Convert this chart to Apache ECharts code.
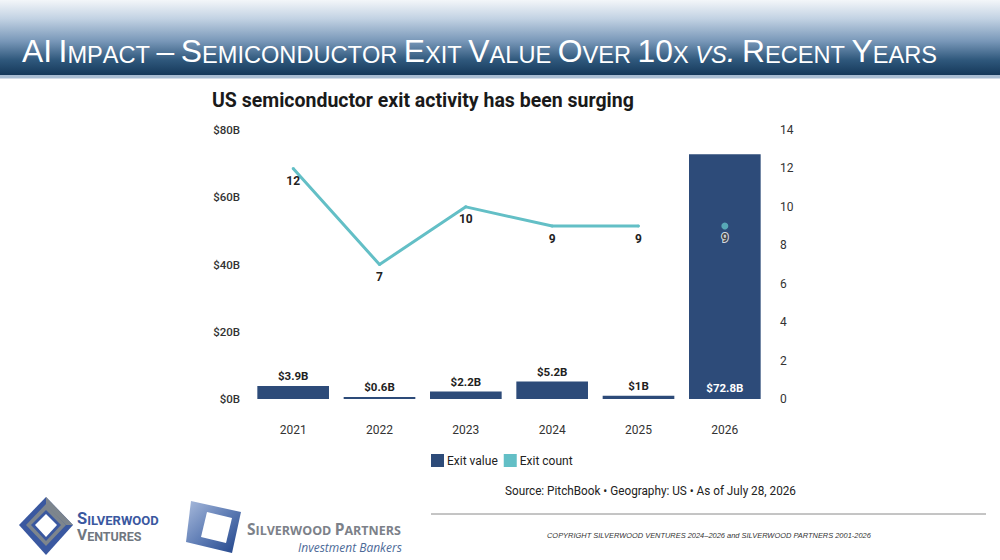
<!DOCTYPE html>
<html>
<head>
<meta charset="utf-8">
<script src="https://cdn.jsdelivr.net/npm/echarts@6/dist/echarts.min.js"></script>
<style>
  html, body { margin: 0; padding: 0; background: #fff; }
  #chart { width: 1000px; height: 560px; }
</style>
</head>
<body>
<div id="chart"></div>
<script>
// data
var years = ['2021', '2022', '2023', '2024', '2025', '2026'];
var exitValue = [3.9, 0.6, 2.2, 5.2, 1, 72.8];   // $B
var exitCount = [12, 7, 10, 9, 9, 9];
var valueTicks = [0, 20, 40, 60, 80];
var countTicks = [0, 2, 4, 6, 8, 10, 12, 14];

var SANS = "'Roboto', 'Liberation Sans', sans-serif";
var BAR = '#2d4b79';
var LINE = '#63bfc6';

// small caps header: lowercase letters become small capitals
function smallCaps(str, italicWords) {
  var out = '';
  str.split(' ').forEach(function (word, wi) {
    if (wi > 0) out += '{sp| }';
    var it = italicWords.indexOf(word) >= 0;
    for (var i = 0; i < word.length; i++) {
      var c = word[i];
      if (c >= 'a' && c <= 'z') out += '{' + (it ? 'si' : 's') + '|' + c.toUpperCase() + '}';
      else out += '{' + (it ? 'bi' : 'b') + '|' + c + '}';
    }
  });
  return out;
}

function capStyle(size, italic) {
  return { fill: '#fff', fontFamily: "'Liberation Sans', Arial, sans-serif", fontSize: size,
    fontWeight: 'normal', fontStyle: italic ? 'italic' : 'normal', verticalAlign: 'bottom', lineHeight: 32 };
}

function logoText(color, family, big, small, lh) {
  return {
    b: { fill: color, fontFamily: family, fontWeight: 'bold', fontSize: big, lineHeight: lh, verticalAlign: 'bottom' },
    s: { fill: color, fontFamily: family, fontWeight: 'bold', fontSize: small, lineHeight: lh, verticalAlign: 'bottom' }
  };
}

var chart = echarts.init(document.getElementById('chart'), null, { renderer: 'svg' });

// line covers 2021-2025, 2026 is a separate point (no connecting segment)
var lineData = exitCount.map(function (v, i) { return i < years.length - 1 ? v : '-'; });
var pointData = exitCount.map(function (v, i) { return i === years.length - 1 ? v : '-'; });

var barData = exitValue.map(function (v) {
  if (v > 50) {
    return { value: v, label: { position: 'insideBottom', color: '#fff', distance: 5 } };
  }
  return v;
});

var option = {
  animation: false,
  title: [{
    text: 'US semiconductor exit activity has been surging',
    left: 207, top: 85,
    textStyle: { color: '#1a1a1a', fontFamily: 'Roboto', fontWeight: 'bold', fontSize: 19.5 }
  }],
  legend: {
    data: ['Exit value', 'Exit count'],
    left: 426, top: 449,
    icon: 'rect', itemWidth: 13, itemHeight: 13, itemGap: 6,
    selectedMode: false,
    textStyle: { color: '#222', fontFamily: SANS, fontSize: 12, padding: [0, 0, 0, -2] }
  },
  grid: { left: 250, right: 232, top: 130, bottom: 161, containLabel: false },
  xAxis: {
    type: 'category',
    data: years,
    axisLine: { show: false },
    axisTick: { show: false },
    axisLabel: { color: '#333', fontFamily: SANS, fontSize: 12, margin: 25 }
  },
  yAxis: [{
    type: 'value',
    min: valueTicks[0], max: valueTicks[valueTicks.length - 1], interval: valueTicks[1] - valueTicks[0],
    splitLine: { show: false },
    axisLine: { show: false },
    axisTick: { show: false },
    axisLabel: { color: '#333', fontFamily: SANS, fontWeight: 500, fontSize: 11.5, margin: 10,
      formatter: function (v) { return '$' + v + 'B'; } }
  }, {
    type: 'value',
    min: countTicks[0], max: countTicks[countTicks.length - 1], interval: countTicks[1] - countTicks[0],
    splitLine: { show: false },
    axisLine: { show: false },
    axisTick: { show: false },
    axisLabel: { color: '#333', fontFamily: 'Roboto', fontSize: 12, margin: 12 }
  }],
  series: [{
    name: 'Exit value',
    type: 'bar',
    yAxisIndex: 0,
    barWidth: '83%',
    data: barData,
    itemStyle: { color: BAR },
    label: {
      show: true, position: 'top', distance: 4,
      color: '#222', fontFamily: SANS, fontWeight: 'bold', fontSize: 11.5,
      formatter: function (p) { return '$' + p.value + 'B'; }
    }
  }, {
    name: 'Exit count',
    type: 'line',
    yAxisIndex: 1,
    data: lineData,
    connectNulls: false,
    symbol: 'circle', symbolSize: 3, showSymbol: true,
    lineStyle: { color: LINE, width: 3 },
    itemStyle: { color: LINE },
    label: {
      show: true, position: 'bottom', distance: 5,
      color: '#222', fontFamily: SANS, fontWeight: 'bold', fontSize: 12
    }
  }, {
    name: 'Exit count',
    type: 'scatter',
    yAxisIndex: 1,
    data: pointData,
    symbolSize: 7,
    itemStyle: { color: LINE },
    label: {
      show: true, position: 'bottom', distance: 2,
      color: '#222', fontFamily: SANS, fontWeight: 'bold', fontSize: 12,
      textBorderColor: '#fff', textBorderWidth: 2
    }
  }],
  graphic: [
    // header band
    { type: 'rect', z: -10, shape: { x: 0, y: 0, width: 1000, height: 75 },
      style: { fill: new echarts.graphic.LinearGradient(0, 0, 0, 1, [
        { offset: 0, color: '#f3f6f9' },
        { offset: 0.25, color: '#c2d2e3' },
        { offset: 0.55, color: '#7897b8' },
        { offset: 0.8, color: '#2f587c' },
        { offset: 1, color: '#15385a' }
      ]) } },
    { type: 'rect', z: -10, shape: { x: 0, y: 75, width: 1000, height: 3 }, style: { fill: '#a8bcd2' } },
    { type: 'rect', z: -10, shape: { x: 0, y: 78, width: 1000, height: 1 }, style: { fill: '#d4dde8' } },
    { type: 'text', x: 22, y: 67,
      style: {
        text: smallCaps('AI Impact \u2013 Semiconductor Exit Value Over 10x vs. Recent Years', ['vs.']),
        verticalAlign: 'bottom',
        rich: { b: capStyle(31.8, false), s: capStyle(23.6, false), bi: capStyle(31.8, true), si: capStyle(23.6, true), sp: capStyle(23.6, false) }
      } },

    // source line, condensed look
    { type: 'text', x: 505, y: 490, scaleX: 0.87,
      style: { text: 'Source: PitchBook \u2022 Geography: US \u2022 As of July 28, 2026',
        fill: '#222', fontFamily: 'Roboto', fontSize: 13.5, verticalAlign: 'middle' } },
    // footer rule + copyright
    { type: 'line', shape: { x1: 431, y1: 514, x2: 986, y2: 514 }, style: { stroke: '#8a8a8a', lineWidth: 1 } },
    { type: 'text', x: 547, y: 535, scaleX: 0.93,
      style: { text: 'COPYRIGHT SILVERWOOD VENTURES 2024\u20132026 and SILVERWOOD PARTNERS 2001-2026',
        fill: '#333', fontFamily: "'Liberation Sans', Arial, sans-serif", fontStyle: 'italic', fontSize: 8, verticalAlign: 'middle' } },

    // Silverwood Ventures logo
    { type: 'polygon', shape: { points: [[46, 497], [73, 525], [46, 555], [19, 525]] }, style: { fill: '#3a58a0' } },
    { type: 'polygon', shape: { points: [[46, 497], [73, 525], [66, 525], [46, 505]] }, style: { fill: '#7d858d' } },
    { type: 'polygon', shape: { points: [[46, 504], [66, 525], [46, 546], [26, 525]] }, style: { fill: '#7d858d' } },
    { type: 'polygon', shape: { points: [[46, 510], [61, 525], [46, 541], [31, 525]] }, style: { fill: '#3a58a0' } },
    { type: 'polygon', shape: { points: [[46, 514], [57, 525], [46, 537], [35, 525]] }, style: { fill: '#fff' } },
    { type: 'text', x: 77, y: 527,
      style: { text: '{b|S}{s|ILVERWOOD}', verticalAlign: 'bottom', rich: logoText('#3a58a0', 'Roboto', 16.5, 13, 13) } },
    { type: 'text', x: 77, y: 543,
      style: { text: '{b|V}{s|ENTURES}', verticalAlign: 'bottom', rich: logoText('#707780', 'Roboto', 15.5, 12.5, 13) } },

    // Silverwood Partners logo
    { type: 'polygon', shape: { points: [[191, 501], [241, 512], [232, 553], [186, 542]] },
      style: { fill: new echarts.graphic.LinearGradient(0, 0, 1, 1, [
        { offset: 0, color: '#a9bbdc' }, { offset: 0.5, color: '#5f7db5' }, { offset: 1, color: '#1f4289' }]) } },
    { type: 'polygon', shape: { points: [[207, 512], [232, 518], [226, 543], [201, 537]] }, style: { fill: '#fff' } },
    { type: 'text', x: 247, y: 537,
      style: { text: '{b|S}{s|ILVERWOOD} {b|P}{s|ARTNERS}', verticalAlign: 'bottom', rich: logoText('#7c8189', 'Open Sans', 15.5, 12.5, 14) } },
    { type: 'text', x: 298, y: 541,
      style: { text: 'Investment Bankers', fill: '#4d6a98', fontFamily: 'Open Sans', fontStyle: 'italic', fontSize: 12, lineHeight: 13, verticalAlign: 'top' } }
  ]
};

chart.setOption(option);
</script>
</body>
</html>
